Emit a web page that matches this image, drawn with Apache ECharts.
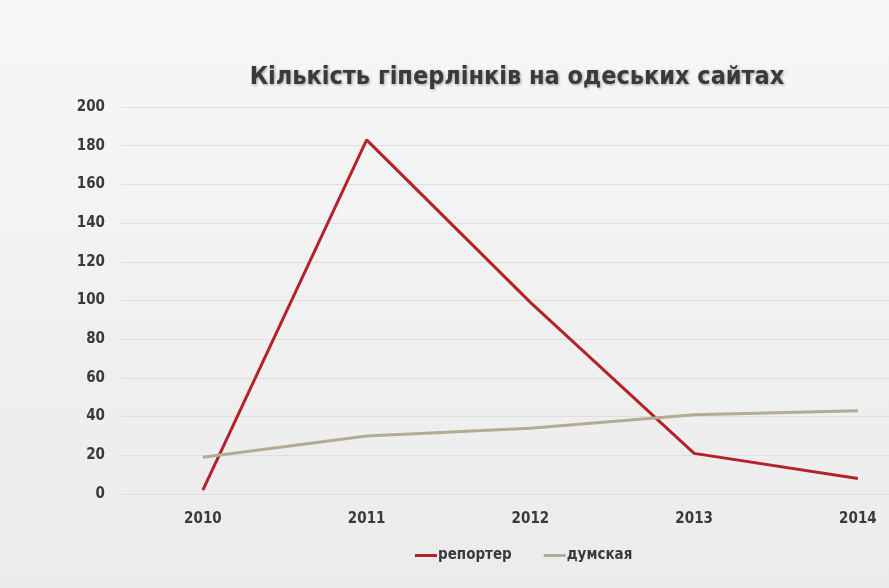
<!DOCTYPE html>
<html>
<head>
<meta charset="utf-8">
<script src="https://cdn.jsdelivr.net/npm/echarts@6/dist/echarts.min.js"></script>
<style>html,body{margin:0;padding:0;}#c{width:889px;height:588px;}</style>
</head>
<body>
<div id="c"></div>
<script>
const years = [2010, 2011, 2012, 2013, 2014];
const reporter = [2, 183, 99, 21, 8];
const dumskaya = [19, 30, 34, 41, 43];
const yTicks = { min: 0, max: 200, interval: 20 };
const titleText = 'Кількість гіперлінків на одеських сайтах';
const seriesNames = ['репортер', 'думская'];

const FONT = '"DejaVu Sans Condensed", "Liberation Sans Narrow", sans-serif';
const chart = echarts.init(document.getElementById('c'));
chart.setOption({
  backgroundColor: new echarts.graphic.LinearGradient(0, 0, 0, 1, [
    { offset: 0, color: '#f7f7f7' },
    { offset: 1, color: '#ebebeb' }
  ]),
  title: {
    text: titleText,
    left: 512, top: 60, textAlign: 'center',
    textStyle: {
      fontFamily: FONT, fontWeight: 'bold', fontSize: 25, color: '#3a3a3a',
      textShadowColor: 'rgba(0,0,0,0.35)', textShadowBlur: 3, textShadowOffsetX: 1, textShadowOffsetY: 1
    }
  },
  legend: {
    data: seriesNames,
    left: 410, top: 543,
    icon: 'rect', itemWidth: 22, itemHeight: 3, itemGap: 32,
    textStyle: { fontFamily: FONT, fontWeight: 'bold', fontSize: 15, color: '#3a3a3a', padding: [0, 0, 0, -4] }
  },
  grid: { left: 121, right: 0, top: 107, bottom: 94 },
  xAxis: {
    type: 'value', min: 2009.5, max: 2014.19,
    splitLine: { show: false },
    axisLine: { show: false }, axisTick: { show: false },
    axisLabel: { customValues: years, showMinLabel: true, showMaxLabel: true, margin: 18, fontFamily: FONT, fontWeight: 'bold', fontSize: 15, color: '#3a3a3a', formatter: v => String(v) }
  },
  yAxis: {
    type: 'value', min: yTicks.min, max: yTicks.max, interval: yTicks.interval,
    axisLine: { show: false }, axisTick: { show: false },
    splitLine: { lineStyle: { color: '#dedede', width: 1 } },
    axisLabel: { margin: 16, fontFamily: FONT, fontWeight: 'bold', fontSize: 15, color: '#3a3a3a' }
  },
  series: [
    { name: seriesNames[0], type: 'line', data: years.map((y, i) => [y, reporter[i]]), symbol: 'none',
      lineStyle: { color: '#b5222b', width: 3 }, itemStyle: { color: '#b5222b' } },
    { name: seriesNames[1], type: 'line', data: years.map((y, i) => [y, dumskaya[i]]), symbol: 'none',
      lineStyle: { color: '#b3ab94', width: 3 }, itemStyle: { color: '#b3ab94' } }
  ],
  animation: false
});
</script>
</body>
</html>
